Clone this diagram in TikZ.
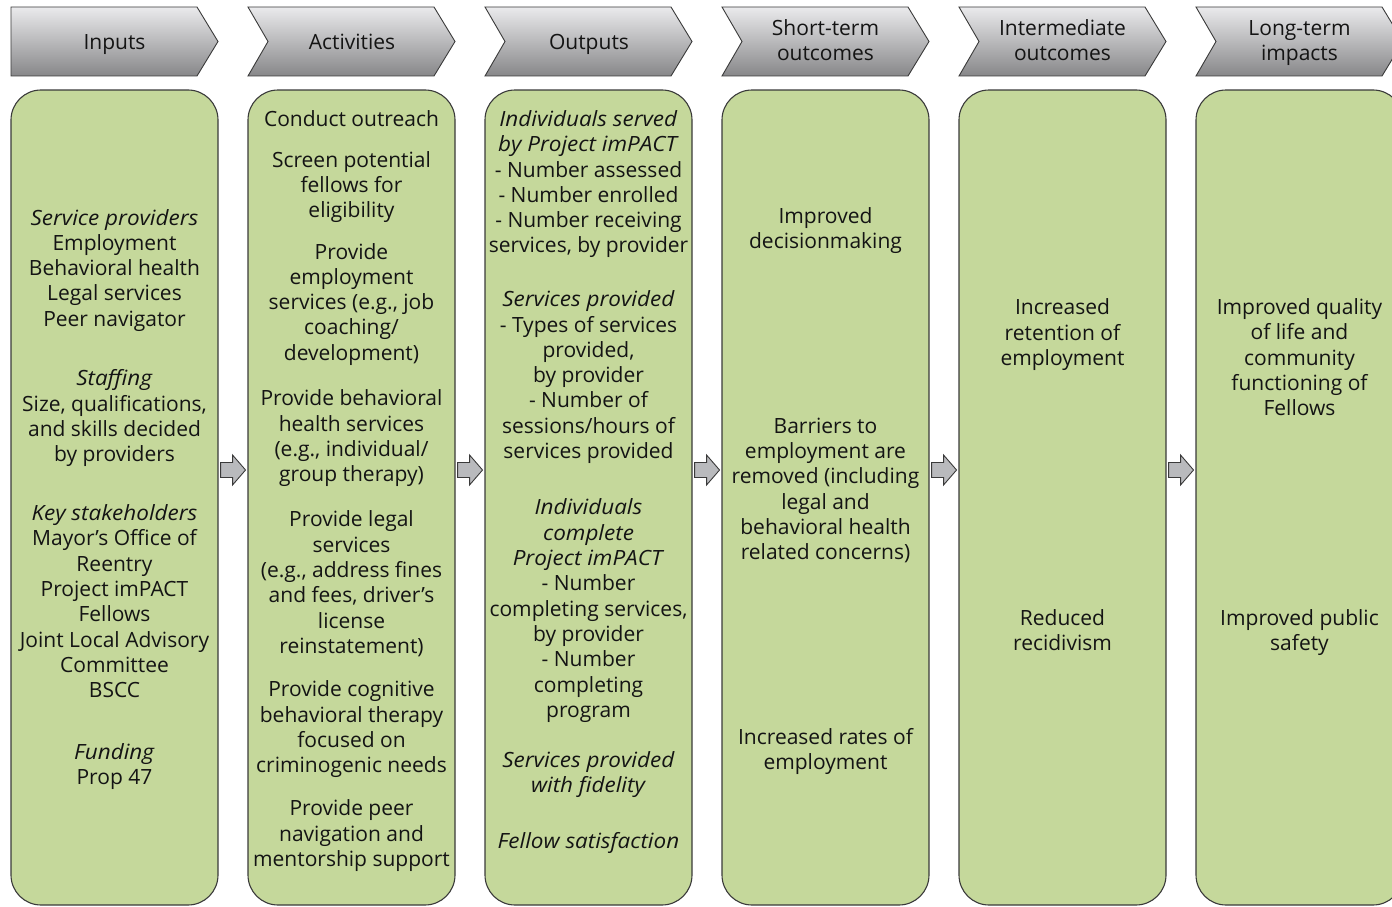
\documentclass[tikz,border=0pt]{standalone}
\usepackage{fontspec}
\setmainfont{Open Sans}[ItalicFeatures={FakeStretch=1.07}]
\usetikzlibrary{calc}
\definecolor{boxgreen}{HTML}{C5D89B}
\definecolor{edgec}{HTML}{3A3A3A}
\definecolor{textc}{HTML}{141414}
\definecolor{hdtop}{HTML}{EAEAEC}
\definecolor{hdbot}{HTML}{878789}
\definecolor{arrowfill}{HTML}{B9BABD}
\begin{document}
\begin{tikzpicture}[x=1pt,y=-1pt,
  gbox/.style={draw=edgec, line width=1.1pt, fill=boxgreen, rounded corners=30pt,
    minimum width=207pt, minimum height=815pt, inner sep=0pt},
  header/.style={draw=edgec, line width=0.9pt, top color=hdtop, bottom color=hdbot},
  htxt/.style={font=\fontsize{21}{25}\selectfont, align=center, text=textc, inner sep=0pt,
    yshift=-3.5pt, execute at begin node=\strut, execute at end node=\strut},
  txt/.style={font=\fontsize{21}{25.3}\selectfont, align=center, text=textc, inner sep=0pt,
    yshift=-3.5pt, execute at begin node=\strut, execute at end node=\strut},
  blockarrow/.style={draw=edgec, line width=0.9pt, fill=arrowfill, line join=miter}]
\useasboundingbox (0,0) rectangle (1392,907);
% headers
\draw[header] (11,7) -- (197,7) -- (218,41.5) -- (197,76) -- (11,76) -- cycle;
\foreach \k in {1,...,5}{
  \pgfmathsetmacro{\xo}{11+237*\k}
  \draw[header] (\xo,7) -- (\xo+186,7) -- (\xo+207,41.5) -- (\xo+186,76) -- (\xo,76) -- (\xo+20,41.5) -- cycle;
}
\node[htxt] (h1) at (114.5,41.5) {Inputs};
\node[htxt] (h2) at (352,41.5) {Activities};
\node[htxt] (h3) at (589,41.5) {Outputs};
\node[htxt] (h4) at (825.5,40.5) {Short-term\\outcomes};
\node[htxt] (h5) at (1062.5,40.5) {Intermediate\\outcomes};
\node[htxt] (h6) at (1299.5,40.5) {Long-term\\impacts};
% boxes
\foreach \k/\cx in {1/114.5,2/351.5,3/588.5,4/825.5,5/1062.5,6/1299.5}{
  \node[gbox] (b\k) at (\cx,497.5) {};
}
% arrows
\foreach \k in {1,...,5}{
  \coordinate (a\k) at ($(b\k.east)+(2,-27.5)$);
  \draw[blockarrow] (a\k) ++(0,-7.5) -- ++(12,0) -- ++(0,-7.5) -- ++(13,15) -- ++(-13,15) -- ++(0,-7.5) -- ++(-12,0) -- cycle;
}
% Inputs
\node[txt] (i1) at (114.5,268) {\textit{Service providers}\\Employment\\Behavioral health\\Legal services\\Peer navigator};
\node[txt] (i2) at (114.5,416) {\textit{Staffing}\\Size, qualifications,\\and skills decided\\by providers};
\node[txt] (i3) at (114.5,601.5) {\textit{Key stakeholders}\\Mayor’s Office of\\Reentry\\Project imPACT\\Fellows\\Joint Local Advisory\\Committee\\BSCC};
\node[txt] (i4) at (114.5,764) {\textit{Funding}\\Prop 47};
% Activities
\node[txt] (c1) at (351.5,118) {Conduct outreach};
\node[txt] (c2) at (351.5,185) {Screen potential\\fellows for\\eligibility};
\node[txt] (c3) at (351.5,302) {Provide\\employment\\services (e.g., job\\coaching/\\development)};
\node[txt] (c4) at (351.5,436) {Provide behavioral\\health services\\(e.g., individual/\\group therapy)};
\node[txt] (c5) at (351.5,582.5) {Provide legal\\services\\(e.g., address fines\\and fees, driver’s\\license\\reinstatement)};
\node[txt] (c6) at (351.5,727) {Provide cognitive\\behavioral therapy\\focused on\\criminogenic needs};
\node[txt] (c7) at (351.5,833.5) {Provide peer\\navigation and\\mentorship support};
% Outputs
\node[txt] (o1) at (588.5,182) {\textit{Individuals served}\\\textit{by Project imPACT}\\- Number assessed\\- Number enrolled\\- Number receiving\\services, by provider};
\node[txt] (o2) at (588.5,375) {\textit{Services provided}\\- Types of services\\provided,\\by provider\\- Number of\\sessions/hours of\\services provided};
\node[txt] (o3) at (588.5,608.5) {\textit{Individuals}\\\textit{complete}\\\textit{Project imPACT}\\- Number\\completing services,\\by provider\\- Number\\completing\\program};
\node[txt] (o4) at (588.5,772.5) {\textit{Services provided}\\\textit{with fidelity}};
\node[txt] (o5) at (588.5,840) {\textit{Fellow satisfaction}};
% Short-term
\node[txt] (s1) at (825.5,228.5) {Improved\\decisionmaking};
\node[txt] (s2) at (825.5,489) {Barriers to\\employment are\\removed (including\\legal and\\behavioral health\\related concerns)};
\node[txt] (s3) at (825.5,749) {Increased rates of\\employment};
% Intermediate
\node[txt] (m1) at (1062.5,332.5) {Increased\\retention of\\employment};
\node[txt] (m2) at (1062.5,630.5) {Reduced\\recidivism};
% Long-term
\node[txt] (l1) at (1299.5,357.5) {Improved quality\\of life and\\community\\functioning of\\Fellows};
\node[txt] (l2) at (1299.5,630.5) {Improved public\\safety};
\end{tikzpicture}
\end{document}
